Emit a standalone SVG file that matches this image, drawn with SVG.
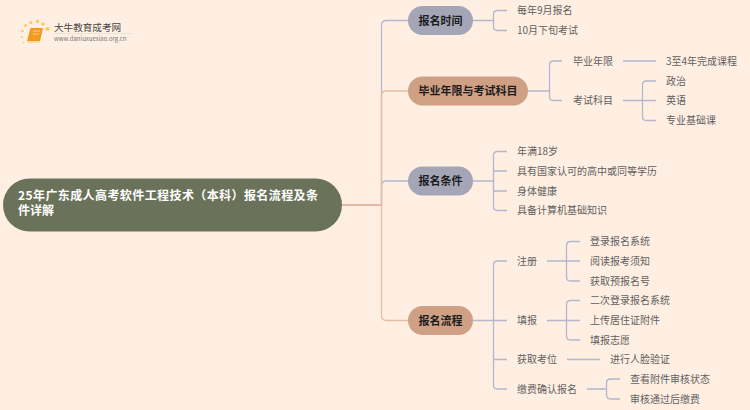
<svg xmlns="http://www.w3.org/2000/svg" width="750" height="410" viewBox="0 0 750 410">
<style>
text{font-family:"Noto Sans CJK SC","Liberation Sans",sans-serif}
.b{fill:none;stroke:#b3b6cd;stroke-width:1.3}
.o{fill:none;stroke:#e6bca2;stroke-width:1.3}
.l{font-size:10px;fill:#5f5f5f;dominant-baseline:central}
.m{font-size:11px;font-weight:700;fill:#1c1c1c;text-anchor:middle;dominant-baseline:central}
.r{font-size:12px;font-weight:700;fill:#fff}
.nb{fill:#a5a5b8}
.no{fill:#d0a085}
</style>
<rect width="750" height="410" fill="#ffefe2"/>
<g id="logo">
<g fill="#f8cb5a"><circle cx="25.500" cy="25.500" r="1.500"/><circle cx="31" cy="22.500" r="1.600"/><circle cx="37.500" cy="21.500" r="1.700"/><circle cx="43" cy="24" r="1.800"/><circle cx="47.500" cy="29" r="2"/><circle cx="22.500" cy="31" r="1.200"/><circle cx="22" cy="37" r="1"/><circle cx="23.500" cy="42.500" r="0.800"/></g>
<path d="M30.500 28H43L40 41H27Z" fill="#f29a1e"/><path d="M27 41H40L39.500 43H27.500Z" fill="#fbd9a0"/><path d="M33 31H40M32.500 34H39" stroke="#ffe3b0" stroke-width="0.800" fill="none"/>
<text x="54" y="31" font-size="9.600" fill="#444">大牛教育成考网</text>
<path d="M54 33.500H132" stroke="#e3dcd5" stroke-width="0.700"/>
<text x="54" y="40.500" font-size="6" fill="#777" font-family="Liberation Sans">www.daniuxuexiao.org.cn</text>
</g>
<g id="connectors">
<path class="b" d="M342 205H381.500V25.500Q381.500 20.500 386.500 20.500H408"/>
<path class="b" d="M342 205H381.500V186Q381.500 181 386.500 181H408"/>
<path class="o" d="M342 205H381.500V96Q381.500 91 386.500 91H408"/>
<path class="o" d="M342 205H381.500V315.500Q381.500 320.500 386.500 320.500H408"/>
<path class="b" d="M473 20.500H493.500M507 10.500H497.500Q493.500 10.500 493.500 14.500V26.500Q493.500 30.500 497.500 30.500H507"/>
<path class="b" d="M528 91H549.500M562 61H553.500Q549.500 61 549.500 65V96.500Q549.500 100.500 553.500 100.500H562"/>
<path class="b" d="M623 61H656M623 100.500H656M656 81H646.500Q642.500 81 642.500 85V116.500Q642.500 120.500 646.500 120.500H656"/>
<path class="b" d="M473 181H493.500M507 151.500H497.500Q493.500 151.500 493.500 155.500V206.500Q493.500 210.500 497.500 210.500H507M493.500 171H507M493.500 191H507"/>
<path class="b" d="M473 320.500H507M507 261H497.500Q493.500 261 493.500 265V385Q493.500 389 497.500 389H507M493.500 359.500H507"/>
<path class="b" d="M547 261H580M580 241.500H570.500Q566.500 241.500 566.500 245.500V277Q566.500 281 570.500 281H580"/>
<path class="b" d="M547 320.500H580M580 300.500H570.500Q566.500 300.500 566.500 304.500V336Q566.500 340 570.500 340H580"/>
<path class="b" d="M567 359.500H600"/>
<path class="b" d="M587 389H606.500M620 379H610.500Q606.500 379 606.500 383V395Q606.500 399 610.500 399H620"/>
</g>
<g id="root"><rect x="3" y="178.500" width="339" height="53" rx="26.500" fill="#6b725a"/><text class="r" x="18" y="200" textLength="300">25年广东成人高考软件工程技术（本科）报名流程及条</text><text class="r" x="18" y="215">件详解</text></g>
<g id="n1"><rect class="nb" x="408" y="6" width="65" height="29" rx="14.500"/><text class="m" x="440.500" y="19.500">报名时间</text></g>
<g id="n2"><rect class="no" x="408" y="76.500" width="120" height="29" rx="14.500"/><text class="m" x="468" y="90">毕业年限与考试科目</text></g>
<g id="n3"><rect class="nb" x="408" y="166.500" width="65" height="29" rx="14.500"/><text class="m" x="440.500" y="180">报名条件</text></g>
<g id="n4"><rect class="no" x="408" y="306" width="65" height="29" rx="14.500"/><text class="m" x="440.500" y="319.500">报名流程</text></g>
<g id="leaves" transform="translate(0,-1)">
<text class="l" x="517" y="10.500">每年9月报名</text>
<text class="l" x="517" y="30.500">10月下旬考试</text>
<text class="l" x="573" y="61">毕业年限</text>
<text class="l" x="666" y="61">3至4年完成课程</text>
<text class="l" x="573" y="100.500">考试科目</text>
<text class="l" x="666" y="81">政治</text>
<text class="l" x="666" y="100.500">英语</text>
<text class="l" x="666" y="120.500">专业基础课</text>
<text class="l" x="517" y="151.500">年满18岁</text>
<text class="l" x="517" y="171">具有国家认可的高中或同等学历</text>
<text class="l" x="517" y="191">身体健康</text>
<text class="l" x="517" y="210.500">具备计算机基础知识</text>
<text class="l" x="517" y="261">注册</text>
<text class="l" x="590" y="241.500">登录报名系统</text>
<text class="l" x="590" y="261">阅读报考须知</text>
<text class="l" x="590" y="281">获取预报名号</text>
<text class="l" x="517" y="320.500">填报</text>
<text class="l" x="590" y="300.500">二次登录报名系统</text>
<text class="l" x="590" y="320.500">上传居住证附件</text>
<text class="l" x="590" y="340">填报志愿</text>
<text class="l" x="517" y="359.500">获取考位</text>
<text class="l" x="610" y="359.500">进行人脸验证</text>
<text class="l" x="517" y="389">缴费确认报名</text>
<text class="l" x="630" y="379">查看附件审核状态</text>
<text class="l" x="630" y="399">审核通过后缴费</text>
</g>
</svg>
